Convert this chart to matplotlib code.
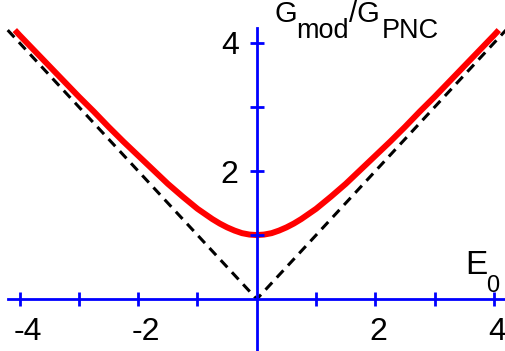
import matplotlib
matplotlib.use("Agg")
import matplotlib.pyplot as plt
import numpy as np

plt.rcParams['font.family'] = ['Liberation Sans', 'DejaVu Sans']

# Red curve G_mod/G_PNC vs E0
E_curve = [-4.08, -4.0, -3.75, -3.5, -3.25, -3.0, -2.75, -2.5, -2.25, -2.0, -1.75, -1.5,
           -1.25, -1.0, -0.875, -0.75, -0.625, -0.5, -0.375, -0.25, -0.125, 0.0,
           0.125, 0.25, 0.375, 0.5, 0.625, 0.75, 0.875, 1.0, 1.25, 1.5, 1.75, 2.0,
           2.25, 2.5, 2.75, 3.0, 3.25, 3.5, 3.75, 4.0, 4.08]
G_curve = [4.20, 4.12, 3.88, 3.64, 3.40, 3.16, 2.93, 2.69, 2.46, 2.24, 2.02, 1.80,
           1.60, 1.41, 1.33, 1.25, 1.18, 1.12, 1.07, 1.03, 1.008, 1.00,
           1.008, 1.03, 1.07, 1.12, 1.18, 1.25, 1.33, 1.41, 1.60, 1.80, 2.02, 2.24,
           2.46, 2.69, 2.93, 3.16, 3.40, 3.64, 3.88, 4.12, 4.20]
# Dashed asymptote
E_dash = [-4.2, 0.0, 4.2]
G_dash = [4.2, 0.0, 4.2]

x_ticks = [-4, -3, -2, -1, 1, 2, 3, 4]
x_labels = {-4: "-4", -2: "-2", 2: "2", 4: "4"}
y_ticks = [1, 2, 3, 4]
y_labels = {2: "2", 4: "4"}

W, H = 505, 351
fig = plt.figure(figsize=(W / 100, H / 100), dpi=100)
ax = fig.add_axes([0, 0, 1, 1])
ax.set_xlim(-4.33, 4.185)
ax.set_ylim(-0.81, 4.67)
ax.axis('off')

blue = '#0000ff'
ax.plot(E_dash, G_dash, color='black', lw=2.2, dashes=(3.2, 2.2), zorder=2)
ax.plot(E_curve, G_curve, color='#ff0000', lw=4.3, solid_capstyle='butt', zorder=3)

# axes lines
ax.plot([-4.2, 4.3], [0, 0], color=blue, lw=2, zorder=4, clip_on=False)
ax.plot([0, 0], [-0.9, 4.24], color=blue, lw=2, zorder=4, clip_on=False)
ax.plot(x_ticks, [0] * len(x_ticks), ls='none', marker='|', ms=10, mew=2,
        color=blue, zorder=4)
ax.plot([0] * len(y_ticks), y_ticks, ls='none', marker='_', ms=10, mew=2,
        color=blue, zorder=4)

for v, s in x_labels.items():
    dx = 8 if v < 0 else 3
    ax.annotate(s, (v, 0), xytext=(dx, -29), textcoords='offset pixels',
                ha='center', va='center_baseline', fontsize=23)
for v, s in y_labels.items():
    ax.annotate(s, (0, v), xytext=(-27, 0), textcoords='offset pixels',
                ha='center', va='center_baseline', fontsize=23)

renderer = fig.canvas.get_renderer()


def chain(parts, x0, y0):
    x = x0
    for s, size, dy, dxs in parts:
        x += dxs
        t = fig.text(x / W, 1 - (y0 + dy) / H, s, fontsize=size, va='baseline', ha='left')
        bb = t.get_window_extent(renderer)
        x += bb.width


chain([("G", 21, 0, -1), ("mod", 19.5, 16, 0), ("/G", 21, 0, 0), ("PNC", 19.5, 16, 2)], 275, 22)
chain([("E", 24, 0, -1), ("0", 17, 18, -1)], 466, 274)

fig.savefig("out.png", dpi=100)
